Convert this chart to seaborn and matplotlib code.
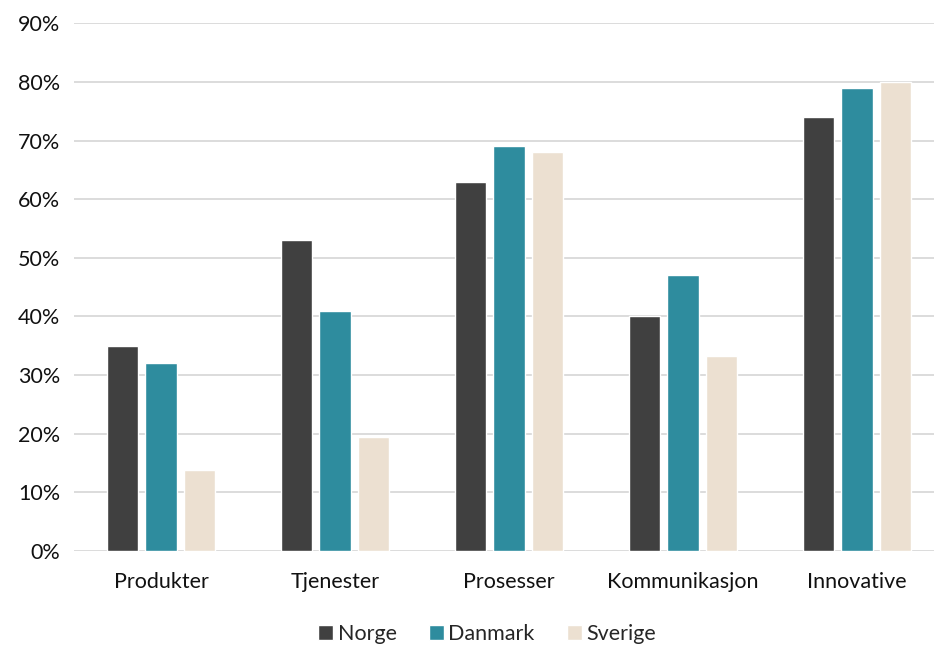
import pandas as pd
import seaborn as sns
import matplotlib.pyplot as plt
from matplotlib.ticker import PercentFormatter

# Data
categories = ['Produkter', 'Tjenester', 'Prosesser', 'Kommunikasjon', 'Innovative']
norge = [0.35, 0.53, 0.63, 0.40, 0.74]
danmark = [0.32, 0.41, 0.69, 0.47, 0.79]
sverige = [0.138, 0.194, 0.68, 0.332, 0.80]
countries = ['Norge', 'Danmark', 'Sverige']
colors = ['#404040', '#2E8C9E', '#ECE0D1']

df = pd.DataFrame({'kategori': categories * 3,
                   'land': [c for c in countries for _ in categories],
                   'andel': norge + danmark + sverige})

sns.set_style('white')
plt.rcParams['font.family'] = ['Lato', 'DejaVu Sans']

fig = plt.figure(figsize=(9.34, 6.46), dpi=100)
ax = fig.add_axes([0.0792, 0.147, 0.9315, 0.817])

sns.barplot(data=df, x='kategori', y='andel', hue='land', palette=colors,
            saturation=1, width=0.66, gap=0.18, ax=ax)

ax.set_ylim(0, 0.9)
ax.set_yticks([i / 10 for i in range(10)])
ax.yaxis.set_major_formatter(PercentFormatter(1.0, decimals=0))
ax.grid(axis='y', color='#D9D9D9', linewidth=1.3)
ax.set_axisbelow(True)
for s in ax.spines.values():
    s.set_visible(False)
ax.tick_params(axis='both', length=0, labelsize=15.5, colors='#111111')
ax.tick_params(axis='x', pad=15)
ax.tick_params(axis='y', pad=10)
ax.set_xlabel('')
ax.set_ylabel('')

ax.legend(loc='upper center', bbox_to_anchor=(0.475, -0.13), ncol=3, frameon=False,
          fontsize=15.5, handlelength=0.7, handleheight=0.7, handletextpad=0.2,
          columnspacing=1.5, borderaxespad=0, borderpad=0.2)

fig.savefig('out.png', dpi=100)
